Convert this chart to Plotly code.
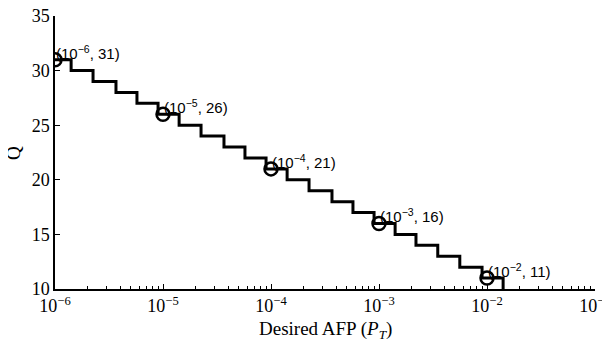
import math
import plotly.graph_objects as go

# Step curve: AFP thresholds where Q drops by one
afp = [1e-6, 1.41e-6, 2.25e-6, 3.67e-6, 5.74e-6, 9.0e-6,
       1.41e-5, 2.25e-5, 3.67e-5, 5.74e-5, 9.0e-5,
       1.41e-4, 2.25e-4, 3.67e-4, 5.74e-4, 9.0e-4,
       1.41e-3, 2.2e-3, 3.5e-3, 5.6e-3, 9.0e-3,
       1.41e-2]
q = [31, 30, 29, 28, 27, 26,
     25, 24, 23, 22, 21,
     20, 19, 18, 17, 16,
     15, 14, 13, 12, 11,
     10]

mark_x = [1e-6, 1e-5, 1e-4, 1e-3, 1e-2]
mark_y = [31, 26, 21, 16, 11]
mark_exp = ["−6", "−5", "−4", "−3", "−2"]

y_ticks = [10, 15, 20, 25, 30, 35]
x_tickvals = [1e-6, 1e-5, 1e-4, 1e-3, 1e-2, 1e-1]
x_ticktext = ["10<sup>−6</sup>", "10<sup>−5</sup>", "10<sup>−4</sup>",
              "10<sup>−3</sup>", "10<sup>−2</sup>", "10<sup>−1</sup>"]
minor_vals = [m * d for d in [1e-6, 1e-5, 1e-4, 1e-3, 1e-2] for m in range(2, 10)]

serif = "Liberation Serif"
sans = "Liberation Sans"

fig = go.Figure()
fig.add_trace(go.Scatter(x=afp, y=q, mode="lines", line=dict(color="black", width=3, shape="hv"),
                         showlegend=False, hoverinfo="skip"))
fig.add_trace(go.Scatter(x=mark_x, y=mark_y, mode="markers",
                         marker=dict(symbol="circle-open", size=13, color="black", line=dict(width=2.5)),
                         showlegend=False))

for xv, yv, e in zip(mark_x, mark_y, mark_exp):
    fig.add_annotation(x=math.log10(xv), y=yv, xref="x", yref="y",
                       text=f"(10<sup>{e}</sup>, {yv})", showarrow=False,
                       xanchor="left", yanchor="bottom", xshift=-1, yshift=-4,
                       font=dict(family=sans, size=15, color="black"))

# axis titles
fig.add_annotation(x=-0.077, y=0.5, xref="paper", yref="paper", text="Q", showarrow=False,
                   textangle=-90, font=dict(family=serif, size=19, color="black"),
                   xanchor="center", yanchor="middle")
fig.add_annotation(x=0.5, y=-0.1, xref="paper", yref="paper",
                   text="Desired AFP (<i>P</i><sub><i>T</i></sub>)", showarrow=False,
                   font=dict(family=serif, size=19, color="black"),
                   xanchor="center", yanchor="top")

fig.update_layout(
    width=610, height=346,
    margin=dict(l=47, r=23, t=8, b=65),
    paper_bgcolor="white", plot_bgcolor="white",
    font=dict(family=serif, size=17, color="black"),
)
fig.update_xaxes(type="log", range=[-6, -1], tickvals=x_tickvals, ticktext=x_ticktext,
                 showline=True, linecolor="black", linewidth=1.5, mirror=False, automargin=False,
                 ticks="inside", ticklen=5, tickcolor="black", showgrid=False, zeroline=False,
                 tickfont=dict(family=serif, size=18), ticklabeloverflow="allow",
                 minor=dict(tickmode="array", tickvals=minor_vals, ticks="inside", ticklen=3,
                            tickcolor="black", showgrid=False))
fig.update_yaxes(range=[10, 35], tickvals=y_ticks, automargin=False,
                 showline=True, linecolor="black", linewidth=1.5,
                 ticks="inside", ticklen=5, tickcolor="black", showgrid=False, zeroline=False,
                 tickfont=dict(family=serif, size=18), ticklabeloverflow="allow")

fig.write_html("out.html")
